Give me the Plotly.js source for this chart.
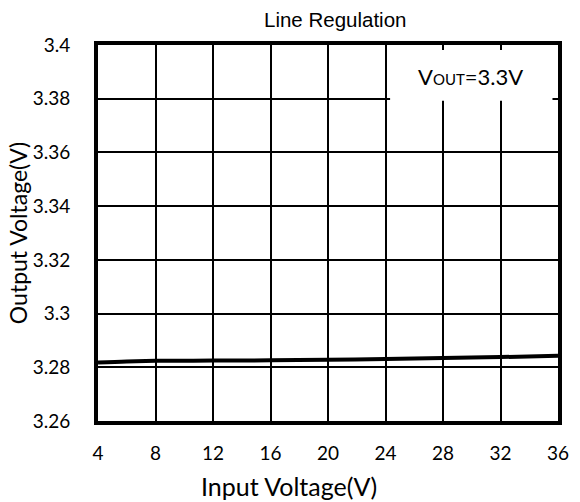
<!DOCTYPE html>
<html><head><meta charset="utf-8">
<script src="https://cdn.plot.ly/plotly-3.0.1.min.js"></script>
<style>html,body{margin:0;padding:0;background:#fff}</style>
</head><body><div id="chart" style="width:580px;height:502px"></div>
<script>
const vin = [4, 6, 8, 12, 16, 20, 24, 28, 32, 36];
const vout = [3.2818, 3.2822, 3.2824, 3.2825, 3.2826, 3.2828, 3.2831, 3.2835, 3.2838, 3.2843];
const xTicks = [4, 8, 12, 16, 20, 24, 28, 32, 36];
const yTicks = [3.26, 3.28, 3.3, 3.32, 3.34, 3.36, 3.38, 3.4];
const yTickText = ['3.26', '3.28', '3.3', '3.32', '3.34', '3.36', '3.38', '3.4'];

const trace = {x: vin, y: vout, mode: 'lines', line: {color: '#000', width: 4, shape: 'spline'}, hoverinfo: 'none'};
const layout = {
  width: 580, height: 502,
  margin: {l: 98, r: 22, t: 45, b: 81},
  paper_bgcolor: '#fff', plot_bgcolor: '#fff',
  showlegend: false,
  title: {text: 'Line Regulation', font: {family: 'Liberation Sans, Arial', size: 20.5, color: '#000'}, x: 0.578, xanchor: 'center', y: 0.96, yanchor: 'middle'},
  xaxis: {
    range: [4, 36], tickvals: xTicks, ticks: '', showgrid: true, gridcolor: '#000', gridwidth: 2,
    showline: true, linecolor: '#000', linewidth: 4, mirror: true, zeroline: false,
    ticklabelstandoff: 12,
    tickfont: {family: 'Lato, Open Sans', size: 19, color: '#000'}
  },
  yaxis: {
    range: [3.26, 3.4], tickvals: yTicks, ticktext: yTickText, ticks: '', showgrid: true, gridcolor: '#000', gridwidth: 2,
    showline: true, linecolor: '#000', linewidth: 4, mirror: true, zeroline: false,
    ticklabelstandoff: 20,
    tickfont: {family: 'Lato, Open Sans', size: 19, color: '#000'},
    title: {text: 'Output Voltage(V)', font: {family: 'Lato, Open Sans', size: 23, color: '#000'}, standoff: 0}
  },
  shapes: [{type: 'rect', xref: 'paper', yref: 'paper', x0: 0.635, x1: 0.988, y0: 0.852, y1: 0.987, fillcolor: '#fff', line: {width: 0}, layer: 'above'}],
  annotations: [
    {xref: 'paper', yref: 'paper', x: 0.81, y: 0.917, xanchor: 'center', yanchor: 'middle', showarrow: false,
     text: "V<span style='font-size:15px'>OUT</span>=3.3V", font: {family: 'Lato, Open Sans', size: 22, color: '#000'}},
    {xref: 'paper', yref: 'paper', x: 0.415, y: -0.173, xanchor: 'center', yanchor: 'middle', showarrow: false,
     text: 'Input Voltage(V)', font: {family: 'Lato, Open Sans', size: 25, color: '#000'}}
  ]
};
Plotly.newPlot('chart', [trace], layout, {displayModeBar: false, staticPlot: true});
</script></body></html>
